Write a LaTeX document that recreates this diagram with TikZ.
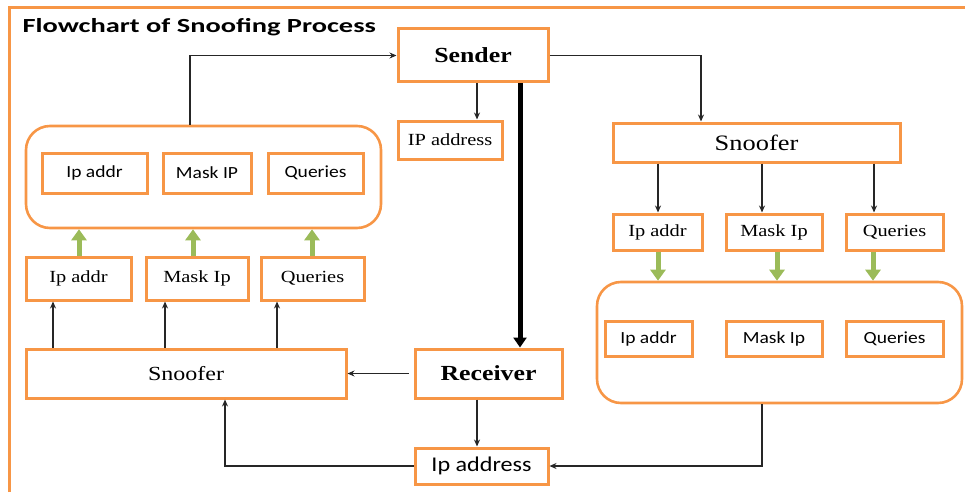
\documentclass[tikz,border=0pt]{standalone}
\usepackage{fontspec}
\setmainfont{Liberation Serif}[FakeStretch=1.2]
\newfontfamily\sansw{Carlito}[FakeStretch=1.15]
\newfontfamily\titlef{Carlito}[FakeStretch=1.42]
\usetikzlibrary{arrows.meta,calc}
\definecolor{org}{HTML}{F79646}
\definecolor{grn}{HTML}{9BBB59}
\tikzset{
  box/.style={draw=org, line width=3pt, fill=white, inner sep=0pt, align=center},
  rbox/.style={draw=org, line width=2.6pt, rounded corners=24pt, inner sep=0pt},
  serifs/.style={font=\fontsize{17}{20}\selectfont},
  sanss/.style={font=\sansw\fontsize{17}{20}\selectfont},
  arr/.style={draw=black!85, line width=1.2pt, -{Stealth[length=7pt,width=6pt]}},
  thickarr/.style={draw=black, line width=5pt, -{Triangle[length=10pt,width=13pt]}},
  garr/.style={draw=grn, line width=5pt, -{Triangle[length=11pt,width=15pt]}}
}
\begin{document}
\begin{tikzpicture}[x=1pt,y=-1pt]
\useasboundingbox (0,0) rectangle (965,492);
\draw[org, line width=3pt] (9,492) -- (9,8) -- (965,8);
\node[anchor=base west, font=\titlef\bfseries\fontsize{20}{24}\selectfont] (title) at (19,33) {Flowchart of Snoofing Process};

% top
\node[box, minimum width=150pt, minimum height=53pt, font=\bfseries\fontsize{21.5}{24}\selectfont] (snd) at (473,55.5) {Sender};
\node[box, serifs, minimum width=104pt, minimum height=38pt] (ip1) at (450,140) {IP address};

% right side
\node[box, minimum width=287pt, minimum height=39pt, font=\fontsize{22}{24}\selectfont] (snr) at (756.5,142.5) {Snoofer};
\node[box, serifs, minimum width=89pt, minimum height=36pt] (rb1) at (657.5,232) {Ip addr};
\node[box, serifs, minimum width=96pt, minimum height=36pt] (rb2) at (774,232) {Mask Ip};
\node[box, serifs, minimum width=97pt, minimum height=36pt] (rb3) at (894.5,232) {Queries};
\node[rbox, minimum width=365pt, minimum height=121pt] (rround) at (779.5,342.5) {};
\node[box, sanss, minimum width=87pt, minimum height=35pt] (ri1) at (648.5,338.5) {Ip addr};
\node[box, sanss, minimum width=96pt, minimum height=35pt] (ri2) at (774,338.5) {Mask Ip};
\node[box, sanss, minimum width=97pt, minimum height=35pt] (ri3) at (894.5,338.5) {Queries};

% middle bottom
\node[box, minimum width=147pt, minimum height=49pt, font=\bfseries\fontsize{21.5}{24}\selectfont] (rcv) at (488.5,373.5) {Receiver};
\node[box, minimum width=133pt, minimum height=36pt, font=\sansw\fontsize{21}{24}\selectfont] (bip) at (481.5,466) {Ip address};

% left side
\node[box, minimum width=320pt, minimum height=49pt, font=\fontsize{20}{24}\selectfont] (lsn) at (186,373.5) {Snoofer};
\node[box, serifs, minimum width=105pt, minimum height=43pt] (lb1) at (78.5,278.5) {Ip addr};
\node[box, serifs, minimum width=102pt, minimum height=43pt] (lb2) at (197,278.5) {Mask Ip};
\node[box, serifs, minimum width=103pt, minimum height=43pt] (lb3) at (312.5,278.5) {Queries};
\node[rbox, minimum width=355pt, minimum height=102pt] (lround) at (203.5,177) {};
\node[box, sanss, minimum width=105pt, minimum height=40pt] (li1) at (94.5,173) {Ip addr};
\node[box, sanss, minimum width=88pt, minimum height=40pt] (li2) at (207,173) {Mask IP};
\node[box, sanss, minimum width=95pt, minimum height=40pt] (li3) at (315.5,173) {Queries};

% connectors
\draw[arr] (190,0 |- lround.north) |- (snd.west);
\draw[arr] (477,0 |- snd.south) -- (477,0 |- ip1.north);
\draw[thickarr] (520,0 |- snd.south) -- (520,0 |- rcv.north);
\draw[arr] (snd.east) -| (701,0 |- snr.north);
\foreach \x in {658,762,874} \draw[arr] (\x,0 |- snr.south) -- (\x,0 |- rb1.north);
\foreach \x in {658,777,873} \draw[garr] (\x,0 |- rb1.south) -- (\x,0 |- rround.north);
\draw[arr] (762,0 |- rround.south) |- (bip.east);
\draw[arr] (477,0 |- rcv.south) -- (477,0 |- bip.north);
\draw[arr] ([xshift=-5pt]rcv.west) -- (lsn.east);
\draw[arr] (bip.west) -| (225,0 |- lsn.south);
\foreach \x in {53,165,277} \draw[arr] (\x,0 |- lsn.north) -- (\x,0 |- lb1.south);
\foreach \x in {79,193,312} \draw[garr] (\x,0 |- lb1.north) -- (\x,0 |- lround.south);
\end{tikzpicture}
\end{document}
